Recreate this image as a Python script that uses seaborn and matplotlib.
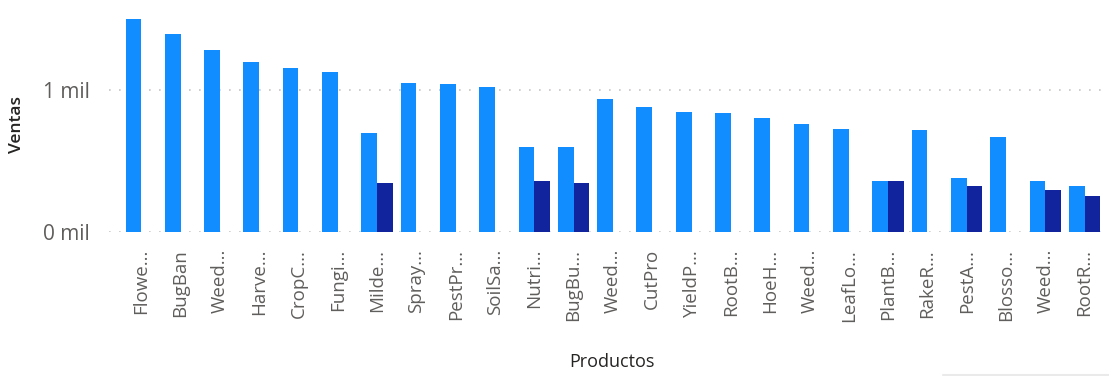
import numpy as np
import pandas as pd
import matplotlib
matplotlib.use("Agg")
import matplotlib.pyplot as plt
import seaborn as sns
from matplotlib.lines import Line2D

# ---- data ----
productos = ["Flowe...", "BugBan", "Weed...", "Harve...", "CropC...", "Fungi...",
             "Milde...", "Spray...", "PestPr...", "SoilSa...", "Nutri...", "BugBu...",
             "Weed...", "CutPro", "YieldP...", "RootB...", "HoeH...", "Weed...",
             "LeafLo...", "PlantB...", "RakeR...", "PestA...", "Blosso...", "Weed...",
             "RootR..."]
serie_1 = [1.50, 1.395, 1.28, 1.20, 1.155, 1.127, 0.70, 1.049, 1.04, 1.019, 0.60, 0.60,
           0.94, 0.878, 0.847, 0.836, 0.805, 0.759, 0.724, 0.358, 0.719, 0.381, 0.672,
           0.358, 0.325]
serie_2 = [np.nan, np.nan, np.nan, np.nan, np.nan, np.nan, 0.349, np.nan, np.nan, np.nan,
           0.358, 0.349, np.nan, np.nan, np.nan, np.nan, np.nan, np.nan, np.nan, 0.358,
           np.nan, 0.327, np.nan, 0.297, 0.257]
series_names = ["Serie 1", "Serie 2"]
series_colors = ["#118DFF", "#12239E"]
ytick_values = [0, 1]
ytick_labels = ["0 mil", "1 mil"]

# unique keys so repeated truncated names stay as separate categories
keys = [f"{i:02d}" for i in range(len(productos))]
df = pd.DataFrame({
    "key": keys * 2,
    "Ventas": serie_1 + serie_2,
    "Serie": [series_names[0]] * len(keys) + [series_names[1]] * len(keys),
})

sns.set_theme(style="white")
plt.rcParams["font.family"] = ["Open Sans", "DejaVu Sans"]

fig = plt.figure(figsize=(11.09, 3.76), dpi=100)
W, H = 1109, 376
left_px, right_px, top_px, bot_px = 109, 1107, 4.6, 232.3
ax = fig.add_axes([left_px / W, 1 - bot_px / H, (right_px - left_px) / W, (bot_px - top_px) / H])

sns.barplot(data=df, x="key", y="Ventas", hue="Serie", order=keys, hue_order=series_names,
            palette=series_colors, width=0.8, linewidth=0, saturation=1, ax=ax,
            legend=False, errorbar=None)

ax.set_xlim(-0.82, 24.57)
ax.set_ylim(0, 1.6)

for s in ax.spines.values():
    s.set_visible(False)

ax.set_yticks(ytick_values)
ax.set_yticklabels(ytick_labels)
for v in ytick_values:
    ax.axhline(v, color="#C8C6C4", linestyle=(0, (1, 5)), linewidth=1.2, zorder=0)

ax.set_xticks(range(len(productos)))
ax.set_xticklabels(productos, rotation=90, va="top", ha="center")
ax.tick_params(axis="x", length=0, pad=12, labelsize=13.5, labelcolor="#605E5C")
ax.tick_params(axis="y", length=0, pad=14, labelsize=15, labelcolor="#605E5C")
ax.set_xlabel("")
ax.set_ylabel("")
ax.grid(False)

fig.text(17 / W, 1 - 125 / H, "Ventas", rotation=90, ha="center", va="center",
         fontsize=12.5, fontweight="semibold", color="#252423")
fig.text(612 / W, 1 - 362 / H, "Productos", ha="center", va="center",
         fontsize=13, color="#252423")

fig.add_artist(Line2D([943 / W, 1.0], [1 / H, 1 / H], transform=fig.transFigure,
                      color="#EAEAEA", linewidth=1.5))

fig.savefig("out.png", dpi=100)
